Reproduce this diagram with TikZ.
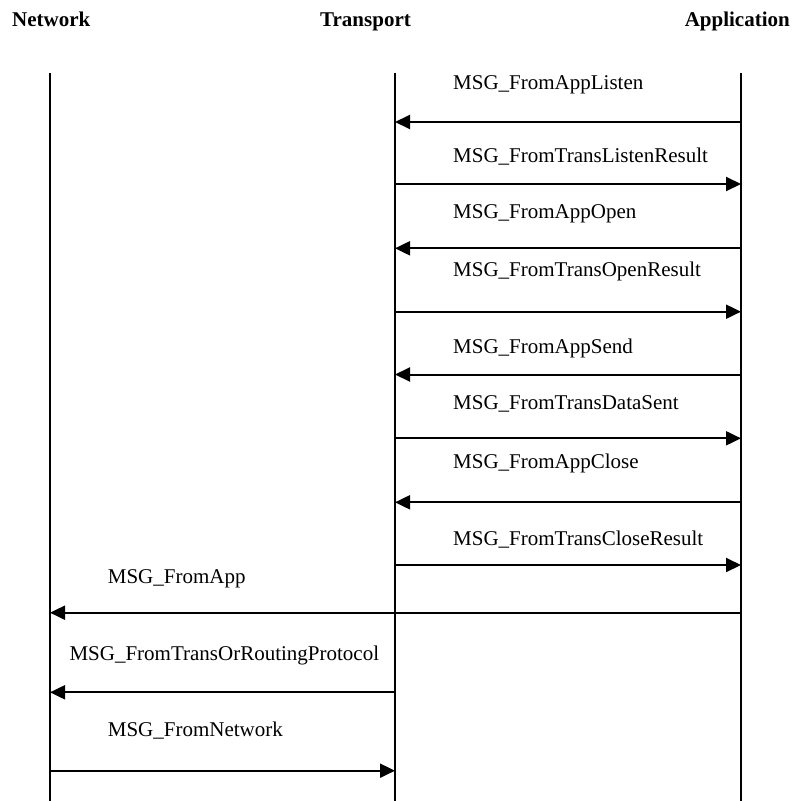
\documentclass[tikz,border=0pt]{standalone}
\usepackage{fontspec}
\setmainfont{Liberation Serif}
\usetikzlibrary{arrows.meta}

\begin{document}
\begin{tikzpicture}[x=1pt,y=-1pt,
  lifeline/.style={line width=1.3pt},
  msg/.style={line width=2pt,-{Triangle[length=15pt,width=14pt]}},
  msglabel/.style={anchor=base west,inner sep=0pt,font=\fontsize{21}{25}\selectfont},
  header/.style={inner sep=0pt,font=\fontsize{21}{25}\selectfont\bfseries}]

\useasboundingbox (0,0) rectangle (792,801);

% participant headings
\node[header,anchor=base west] (hnet)  at (12,26.7)  {Network};
\node[header,anchor=base west] (htr)   at (320,26.7) {Transport};
\node[header,anchor=base east] (happ)  at (790,26.7) {Application};

% lifelines
\coordinate (netTop) at (50,73);   \coordinate (netBot) at (50,801);
\coordinate (trTop)  at (395,73);  \coordinate (trBot)  at (395,801);
\coordinate (appTop) at (741,73);  \coordinate (appBot) at (741,801);
\draw[lifeline] (netTop) -- (netBot);
\draw[lifeline] (trTop) -- (trBot);
\draw[lifeline] (appTop) -- (appBot);

% message end points on the lifelines
\foreach \i/\y in {1/122,2/184,3/248.3,4/311.7,5/374.5,6/438.3,7/502.3,8/565,9/612.7,10/692.3,11/770.7}{
  \coordinate (n\i) at (50,\y);
  \coordinate (t\i) at (395,\y);
  \coordinate (a\i) at (741,\y);
}

% Transport <-> Application
\node[msglabel] (l1) at (453,89)    {MSG\_FromAppListen};
\draw[msg] (a1) -- (t1);
\node[msglabel] (l2) at (453,162)   {MSG\_FromTransListenResult};
\draw[msg] (t2) -- (a2);
\node[msglabel] (l3) at (453,218.3) {MSG\_FromAppOpen};
\draw[msg] (a3) -- (t3);
\node[msglabel] (l4) at (453,276)   {MSG\_FromTransOpenResult};
\draw[msg] (t4) -- (a4);
\node[msglabel] (l5) at (453,353.3) {MSG\_FromAppSend};
\draw[msg] (a5) -- (t5);
\node[msglabel] (l6) at (453,409.3) {MSG\_FromTransDataSent};
\draw[msg] (t6) -- (a6);
\node[msglabel] (l7) at (453,468.3) {MSG\_FromAppClose};
\draw[msg] (a7) -- (t7);
\node[msglabel] (l8) at (453,545)   {MSG\_FromTransCloseResult};
\draw[msg] (t8) -- (a8);

% Network exchanges
\node[msglabel] (l9)  at (107.7,583.3) {MSG\_FromApp};
\draw[msg] (a9) -- (n9);
\node[msglabel] (l10) at (69.3,660)    {MSG\_FromTransOrRoutingProtocol};
\draw[msg] (t10) -- (n10);
\node[msglabel] (l11) at (107.7,736.7) {MSG\_FromNetwork};
\draw[msg] (n11) -- (t11);

\end{tikzpicture}
\end{document}
